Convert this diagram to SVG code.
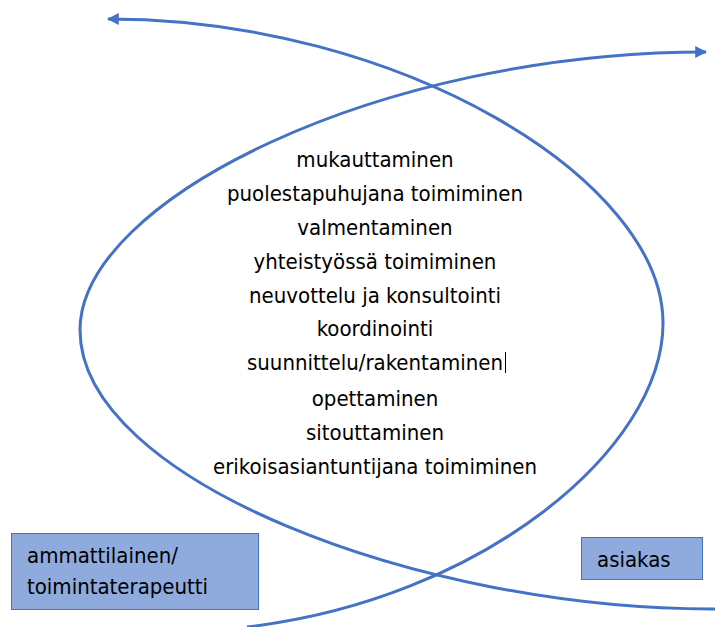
<svg xmlns="http://www.w3.org/2000/svg" width="715" height="627" viewBox="0 0 715 627">
  <defs>
    <marker id="arrow" viewBox="0 0 10 10" refX="9" refY="5" markerWidth="4" markerHeight="4" orient="auto" markerUnits="strokeWidth">
      <path d="M0,0 L10,5 L0,10 Z" fill="#4472C4"/>
    </marker>
    <style>
      .curve { fill: none; stroke: #4472C4; stroke-width: 3; marker-end: url(#arrow); }
      .box { fill: #8FAADC; stroke: #4472C4; stroke-width: 1; }
      text { font-family: "DejaVu Sans Condensed", "DejaVu Sans", sans-serif; font-stretch: condensed; font-size: 22px; fill: #000; }
      .center { text-anchor: middle; }
    </style>
  </defs>
  <rect width="715" height="627" fill="#fff"/>
  <g id="connectors">
    <path id="curve-a" class="curve" d="M247,627 C480,600 663,450 663,323 C663,180 400,19 108,19"/>
    <path id="curve-b" class="curve" d="M715,609 C420,610 80,480 80,330 C80,200 380,52 706,52"/>
  </g>
  <g id="activities">
    <text class="center" x="375" y="167">mukauttaminen</text>
    <text class="center" x="375" y="201">puolestapuhujana toimiminen</text>
    <text class="center" x="375" y="235">valmentaminen</text>
    <text class="center" x="375" y="269">yhteistyössä toimiminen</text>
    <text class="center" x="375" y="303">neuvottelu ja konsultointi</text>
    <text class="center" x="375" y="336">koordinointi</text>
    <text class="center" x="375" y="370">suunnittelu/rakentaminen</text>
    <text class="center" x="375" y="406">opettaminen</text>
    <text class="center" x="375" y="440">sitouttaminen</text>
    <text class="center" x="375" y="474">erikoisasiantuntijana toimiminen</text>
    <line x1="505.5" y1="352" x2="505.5" y2="373" stroke="#000" stroke-width="1"/>
  </g>
  <g id="ammattilainen">
    <rect class="box" x="11.5" y="533.5" width="247" height="76"/>
    <text x="27" y="563">ammattilainen/</text>
    <text x="27" y="594">toimintaterapeutti</text>
  </g>
  <g id="asiakas">
    <rect class="box" x="581.5" y="537.5" width="121" height="42"/>
    <text x="597" y="567">asiakas</text>
  </g>
</svg>
